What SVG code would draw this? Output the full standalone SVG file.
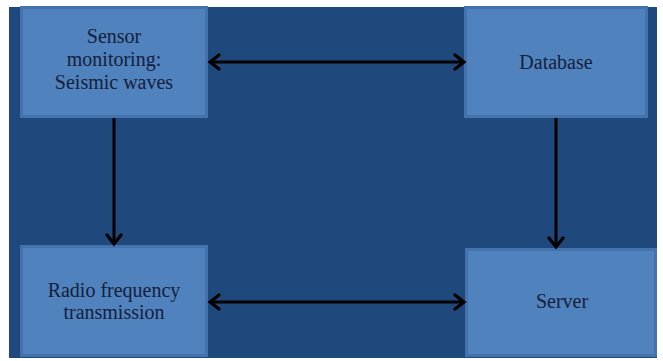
<svg xmlns="http://www.w3.org/2000/svg" width="663" height="361" viewBox="0 0 663 361">
<defs>
<style>
.box{fill:#5082be;stroke:#4372ac;stroke-width:3}
.lbl{font-family:"Liberation Serif","Times New Roman",serif;font-size:20px;fill:#16203a;text-anchor:middle}
.conn{stroke:#000;stroke-width:3;fill:none}
</style>
<marker id="ah" markerUnits="userSpaceOnUse" markerWidth="16" markerHeight="18" refX="12" refY="9" orient="auto-start-reverse">
<path d="M3,2 L12,9 L3,16" fill="none" stroke="#000" stroke-width="3.2" stroke-linecap="round" stroke-linejoin="miter"/>
</marker>
</defs>
<rect x="0" y="0" width="663" height="361" fill="#ffffff"/>
<rect x="9" y="7" width="648" height="351" fill="#1f497d"/>
<g id="sensor">
<rect class="box" x="21.5" y="7.5" width="185" height="109"/>
<text class="lbl" x="114" y="43">Sensor</text>
<text class="lbl" x="114" y="66">monitoring:</text>
<text class="lbl" x="114" y="89">Seismic waves</text>
</g>
<g id="database">
<rect class="box" x="465.5" y="7.5" width="181" height="109"/>
<text class="lbl" x="556" y="69">Database</text>
</g>
<g id="radio">
<rect class="box" x="21.5" y="246.5" width="185" height="109"/>
<text class="lbl" x="114" y="297">Radio frequency</text>
<text class="lbl" x="114" y="319">transmission</text>
</g>
<g id="server">
<rect class="box" x="466.5" y="249.5" width="189" height="106"/>
<text class="lbl" x="562" y="308">Server</text>
</g>
<g id="connectors">
<line class="conn" x1="210" y1="62" x2="464" y2="62" marker-start="url(#ah)" marker-end="url(#ah)"/>
<line class="conn" x1="210" y1="302" x2="464" y2="302" marker-start="url(#ah)" marker-end="url(#ah)"/>
<line class="conn" x1="114" y1="118" x2="114" y2="244" marker-end="url(#ah)"/>
<line class="conn" x1="556" y1="118" x2="556" y2="247" marker-end="url(#ah)"/>
</g>
</svg>
